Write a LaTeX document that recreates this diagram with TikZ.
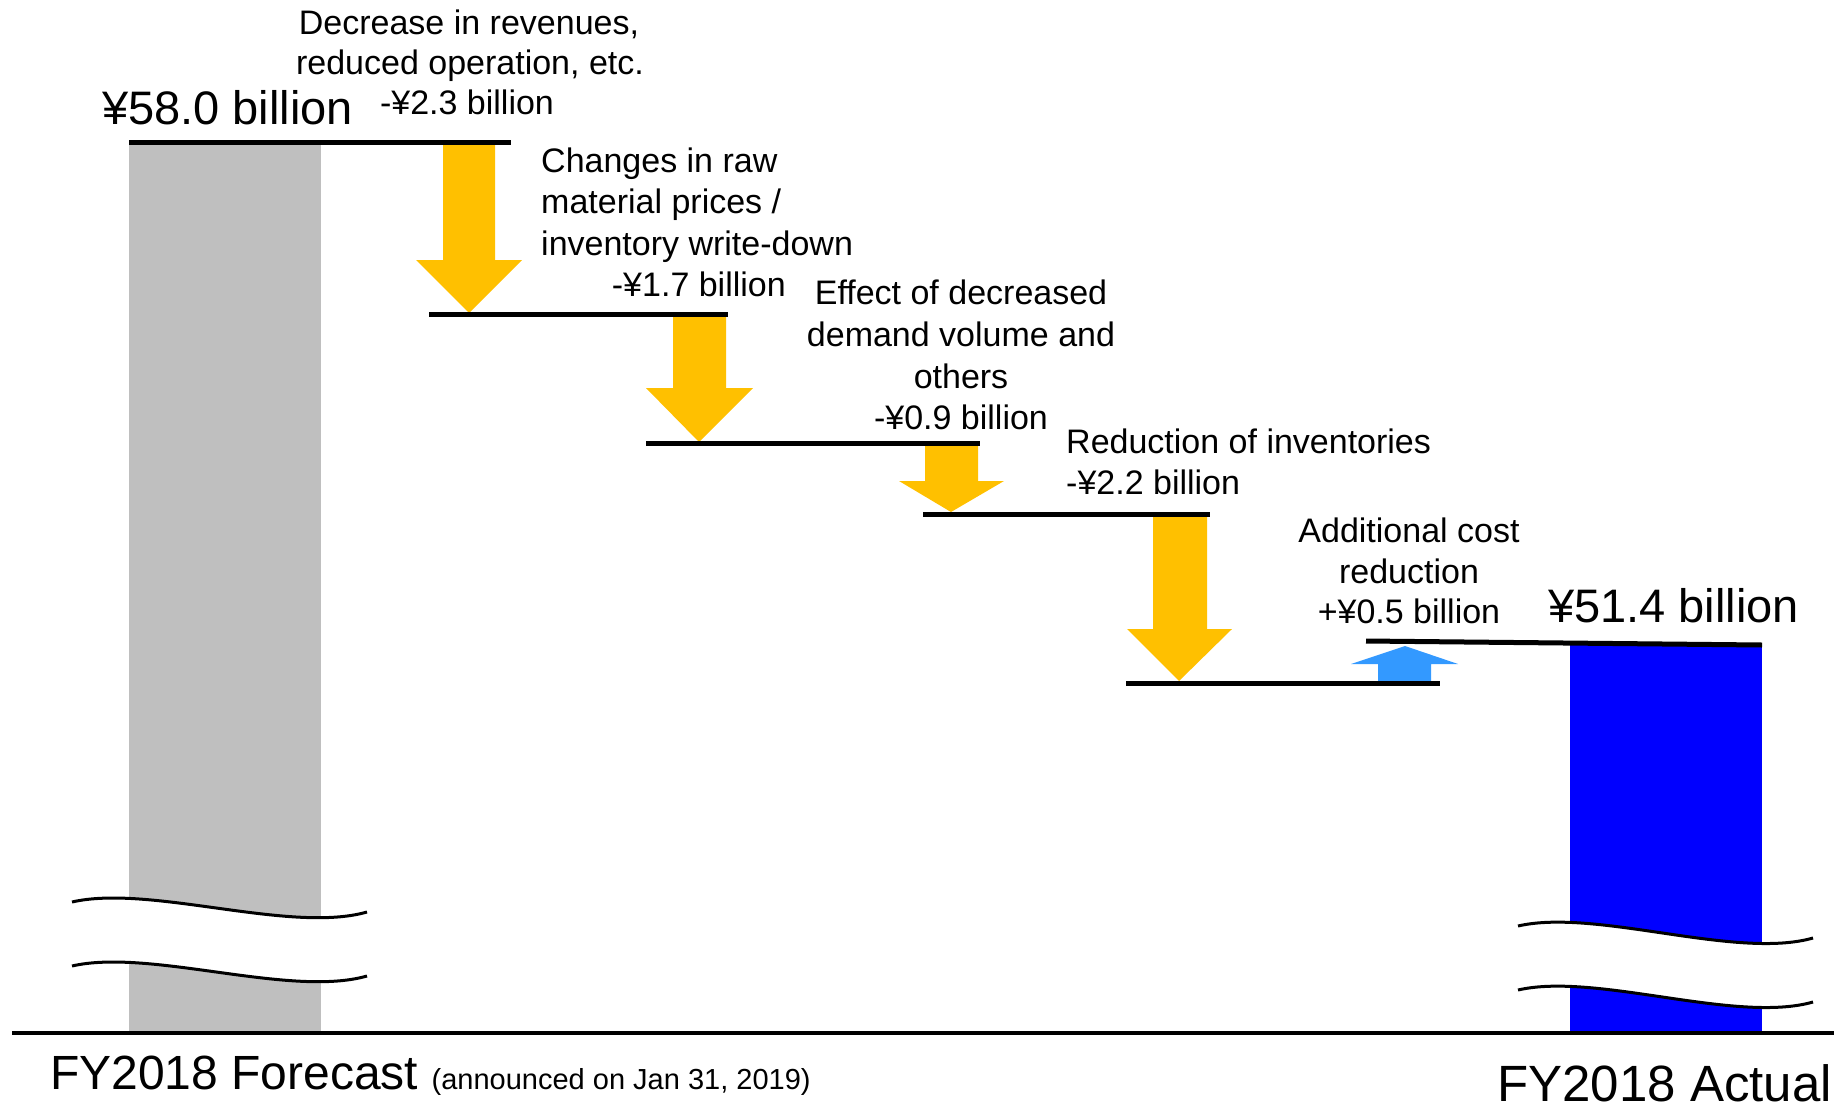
\documentclass[tikz,border=0pt]{standalone}
\usepackage{fontspec}
\setmainfont{Liberation Sans}
\definecolor{gold}{HTML}{FFC000}
\definecolor{skyblue}{HTML}{3399FF}
\definecolor{barblue}{HTML}{0000FF}
\definecolor{bargray}{HTML}{BFBFBF}
\tikzset{
  lbl/.style={inner sep=0pt, font=\fontsize{34}{41}\selectfont},
  big/.style={inner sep=0pt, font=\fontsize{47}{56}\selectfont},
  level/.style={line width=5pt},
  axisline/.style={line width=4pt},
  wave/.style={line width=3pt},
  downarr/.style={fill=gold, draw=none},
  uparr/.style={fill=skyblue, draw=none}
}
\begin{document}
\begin{tikzpicture}[x=1pt,y=-1pt]
\useasboundingbox (0,0) rectangle (1839,1111);
\fill[white] (0,0) rectangle (1839,1111);
% bars
\fill[bargray] (129,145) rectangle (321,1031);
\fill[barblue] (1570,643) rectangle (1762,1031);
% breaks
\fill[white] (72,902) .. controls (150,884) and (290,934) .. (367,912) -- (367,976) .. controls (290,998) and (150,948) .. (72,966) -- cycle;
\fill[white] (1518,926) .. controls (1596,908) and (1736,960) .. (1813,938) -- (1813,1002) .. controls (1736,1024) and (1596,972) .. (1518,990) -- cycle;
\draw[wave] (72,902) .. controls (150,884) and (290,934) .. (367,912);
\draw[wave] (72,966) .. controls (150,948) and (290,998) .. (367,976);
\draw[wave] (1518,926) .. controls (1596,908) and (1736,960) .. (1813,938);
\draw[wave] (1518,990) .. controls (1596,972) and (1736,1024) .. (1813,1002);
% level coordinates
\coordinate (L1a) at (129,142); \coordinate (L1b) at (511,142);
\coordinate (L2a) at (429,314); \coordinate (L2b) at (728,314);
\coordinate (L3a) at (646,443); \coordinate (L3b) at (980,443);
\coordinate (L4a) at (923,514); \coordinate (L4b) at (1210,514);
\coordinate (L5a) at (1126,683); \coordinate (L5b) at (1440,683);
\coordinate (L6a) at (1366,641); \coordinate (L6b) at (1762,645);
\coordinate (Ax) at (12,1033); \coordinate (Bx) at (1834,1033);
% arrows
\fill[downarr] (443,145) -- (495,145) -- (495,260) -- (522,260) -- (469,313) -- (416,260) -- (443,260) -- cycle;
\fill[downarr] (673,317) -- (726,317) -- (726,388) -- (753,388) -- (699,442) -- (646,388) -- (673,388) -- cycle;
\fill[downarr] (925,446) -- (978,446) -- (978,481) -- (1004,481) -- (951,512) -- (899,481) -- (925,481) -- cycle;
\fill[downarr] (1153,517) -- (1207,517) -- (1207,629) -- (1232,629) -- (1179,681) -- (1127,629) -- (1153,629) -- cycle;
\fill[uparr] (1378,681) -- (1431,681) -- (1431,664) -- (1458,664) -- (1405,646) -- (1351,664) -- (1378,664) -- cycle;
% level lines
\draw[level] (L1a) -- (L1b);
\draw[level] (L2a) -- (L2b);
\draw[level] (L3a) -- (L3b);
\draw[level] (L4a) -- (L4b);
\draw[level] (L5a) -- (L5b);
\draw[level] (L6a) -- (L6b);
\draw[axisline] (Ax) -- (Bx);
% texts
\node[big, anchor=base west] (v58) at (102,124) {¥58.0 billion};
\node[big, anchor=base west] (v51) at (1548,622) {¥51.4 billion};
\node[lbl, anchor=base] (d1) at (469,34) {Decrease in revenues,};
\node[lbl, anchor=base] (d2) at (470,74) {reduced operation, etc.};
\node[lbl, anchor=base] (d3) at (467,114) {-¥2.3 billion};
\node[lbl, anchor=base west] (c1) at (541,172) {Changes in raw};
\node[lbl, anchor=base west] (c2) at (541,213) {material prices /};
\node[lbl, anchor=base west] (c3) at (541,255) {inventory write-down};
\node[lbl, anchor=base east] (c4) at (786,296) {-¥1.7 billion};
\node[lbl, anchor=base] (e1) at (961,304) {Effect of decreased};
\node[lbl, anchor=base] (e2) at (961,346) {demand volume and};
\node[lbl, anchor=base] (e3) at (961,388) {others};
\node[lbl, anchor=base] (e4) at (961,429) {-¥0.9 billion};
\node[lbl, anchor=base west] (r1) at (1066,453) {Reduction of inventories};
\node[lbl, anchor=base west] (r2) at (1066,494) {-¥2.2 billion};
\node[lbl, anchor=base] (a1) at (1409,542) {Additional cost};
\node[lbl, anchor=base] (a2) at (1409,583) {reduction};
\node[lbl, anchor=base] (a3) at (1409,623) {+¥0.5 billion};
\node[inner sep=0pt, anchor=base west, font=\fontsize{48}{56}\selectfont] (fc) at (50,1089) {FY2018 Forecast {\fontsize{29}{34}\selectfont (announced on Jan 31, 2019)}};
\node[inner sep=0pt, anchor=base east, font=\fontsize{51}{60}\selectfont] (fa) at (1832,1101) {FY2018 Actual};
\end{tikzpicture}
\end{document}
